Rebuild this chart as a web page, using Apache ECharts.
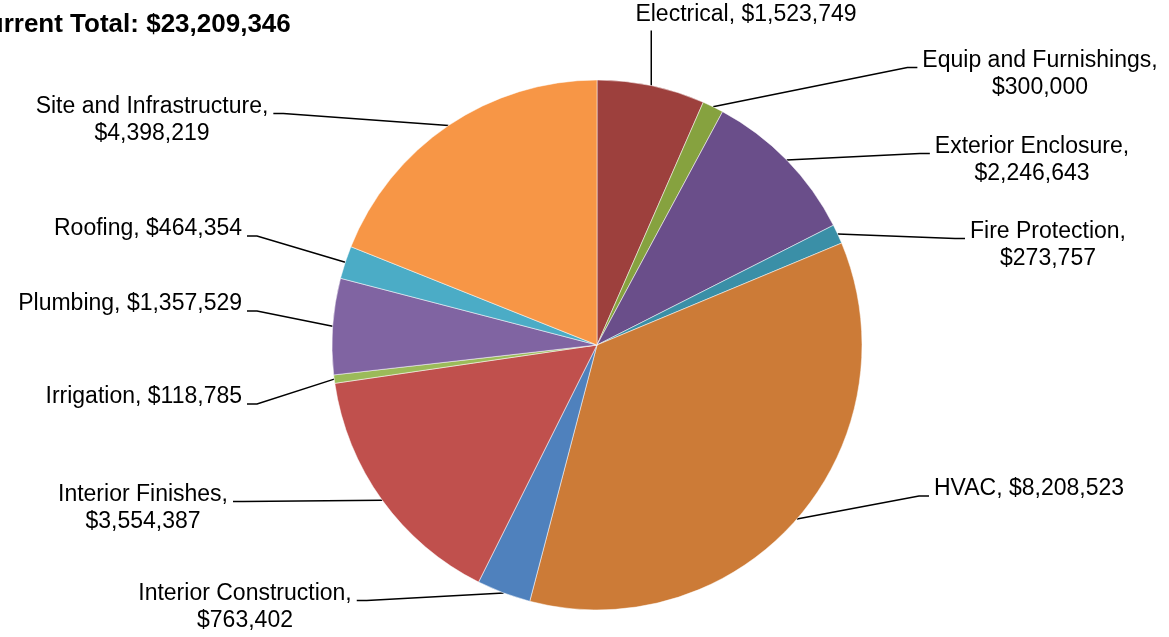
<!DOCTYPE html>
<html><head><meta charset="utf-8">
<script src="https://cdn.jsdelivr.net/npm/echarts@6/dist/echarts.min.js"></script>
<style>html,body{margin:0;padding:0;background:#fff}#c{width:1169px;height:637px}</style>
</head><body><div id="c"></div>
<script>
const categories = ['Electrical','Equip and Furnishings','Exterior Enclosure','Fire Protection','HVAC','Interior Construction','Interior Finishes','Irrigation','Plumbing','Roofing','Site and Infrastructure'];
const values = [1523749,300000,2246643,273757,8208523,763402,3554387,118785,1357529,464354,4398219];
const colors = ['#9D403D','#86A23F','#6A4E8A','#3A8FA7','#CC7B37','#4F81BD','#C0504D','#9BBB59','#8064A2','#4BACC6','#F79646'];
const wrapped = ['Equip and Furnishings','Exterior Enclosure','Fire Protection','Interior Construction','Interior Finishes','Site and Infrastructure'];
const titleText = 'Current Total: $23,209,346';
// label anchor placement [x, y, align]
const labelPos = [[746,15,'center'],[1040,74,'center'],[1032,160,'center'],[1048,245,'center'],[934,489,'left'],[245,607,'center'],[143,508,'center'],[242,397,'right'],[242,304,'right'],[242,229,'right'],[152,120,'center']];

const FONT = "'Liberation Sans', Arial, sans-serif";
const CX = 597, CY = 345, R = 265, LH = 27;
const fmt = v => '$' + v.toLocaleString('en-US');
const chart = echarts.init(document.getElementById('c'));
chart.setOption({
  animation:false,
  title:{text:titleText,left:-36,top:7,textStyle:{fontFamily:FONT,fontSize:26,fontWeight:'bold',color:'#000'}},
  series:[{
    type:'pie',
    center:[CX,CY],radius:R,startAngle:90,clockwise:true,
    itemStyle:{borderColor:'#fff',borderWidth:0.5},
    data:categories.map((n,i)=>({name:n,value:values[i],itemStyle:{color:colors[i]}})),
    label:{show:true,color:'#000',fontFamily:FONT,fontSize:23,lineHeight:LH,
      formatter:p=>p.name+','+(wrapped.includes(p.name)?'\n':' ')+fmt(p.value)},
    labelLine:{show:true,length:20,length2:10,lineStyle:{color:'#000',width:1.5}},
    labelLayout:function(p){
      const q=labelPos[p.dataIndex];
      const w=p.labelRect.width,h=p.labelRect.height;
      const left = q[2]==='left'?q[0]:(q[2]==='right'?q[0]-w:q[0]-w/2);
      const top = q[1]-h/2;
      const s = p.labelLinePoints ? p.labelLinePoints[0] : null;
      const out = {x:q[0],y:q[1],align:q[2],verticalAlign:'middle'};
      if (s) {
        let pts;
        if (s[0]>=left && s[0]<=left+w && top+h < s[1]) {
          pts=[[s[0],s[1]],[s[0],top+h+2]];
        } else {
          const yy = top + LH/2 + 7;
          if (left+w/2 > CX) {
            pts=[[s[0],s[1]],[left-15,yy],[left-5,yy]];
          } else {
            pts=[[s[0],s[1]],[left+w+15,yy],[left+w+5,yy]];
          }
        }
        out.labelLinePoints=pts;
      }
      return out;
    }
  }]
});
</script></body></html>
